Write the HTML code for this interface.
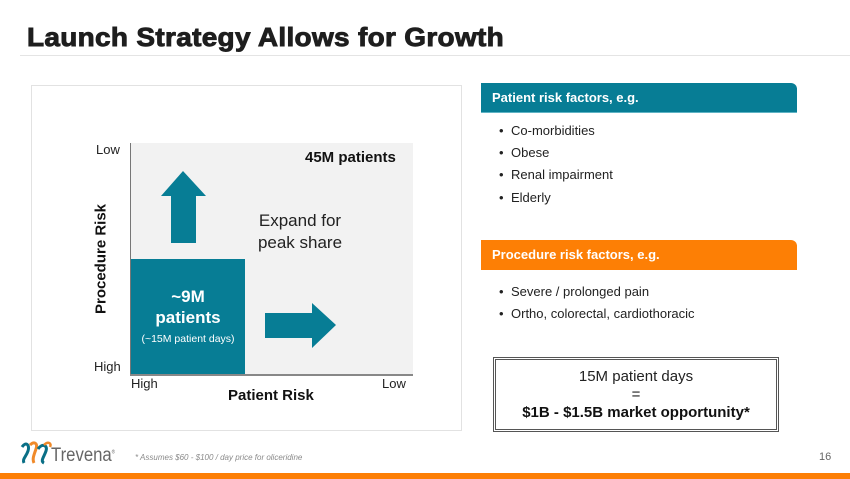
<!DOCTYPE html>
<html><head><meta charset="utf-8">
<style>
*{margin:0;padding:0;box-sizing:border-box}
html,body{width:850px;height:479px;background:#fff;overflow:hidden}
body{position:relative;font-family:"Liberation Sans",Arial,sans-serif;color:#222}
.abs{position:absolute;white-space:nowrap}
.title{left:27px;top:22px;font-size:26px;font-weight:bold;color:#1e1e1e;letter-spacing:0.3px;transform:scaleX(1.075);transform-origin:left top;-webkit-text-stroke:0.9px #1e1e1e}
.rule{left:20px;top:55px;width:830px;height:1px;background:#e4e4e4}
.chartbox{left:31px;top:85px;width:431px;height:346px;border:1px solid #e2e2e2}
.plot{left:131px;top:143px;width:282px;height:231px;background:#f2f2f2}
.yaxis{left:130px;top:143px;width:1px;height:233px;background:#777}
.xaxis{left:130px;top:374px;width:283px;height:2px;background:#888}
.teal{left:131px;top:259px;width:114px;height:115px;background:#077d95}
.lbl{font-size:13px;color:#222}
.bold15{font-size:15px;font-weight:bold;color:#111}
.bar{height:30px;color:#fff;font-size:13px;font-weight:bold;padding-left:11px;line-height:30px;border-top-right-radius:6px}
.bul{font-size:13px;color:#222}
.bul span{display:inline-block;width:12px;font-size:13px}
</style></head><body>
<div class="abs title">Launch Strategy Allows for Growth</div>
<div class="abs rule"></div>

<div class="abs chartbox"></div>
<div class="abs plot"></div>
<div class="abs teal"></div>
<div class="abs yaxis"></div>
<div class="abs xaxis"></div>

<svg class="abs" style="left:0;top:0" width="850" height="479">
  <polygon points="171,243 196,243 196,196 206,196 183,171 161,196 171,196" fill="#077d95"/>
  <polygon points="265,313 312,313 312,303 336,325 312,348 312,338 265,338" fill="#077d95"/>
</svg>

<div class="abs lbl" style="left:96px;top:142px">Low</div>
<div class="abs lbl" style="left:94px;top:359px">High</div>
<div class="abs lbl" style="left:131px;top:376px">High</div>
<div class="abs lbl" style="left:382px;top:376px">Low</div>
<div class="abs bold15" style="left:228px;top:387px">Patient Risk</div>
<div class="abs bold15" style="left:101px;top:259px;transform:translate(-50%,-50%) rotate(-90deg)">Procedure Risk</div>
<div class="abs bold15" style="left:305px;top:149px">45M patients</div>
<div class="abs" style="left:245px;top:210px;width:110px;text-align:center;font-size:17px;line-height:22px;color:#222">Expand for<br>peak share</div>
<div class="abs" style="left:131px;top:286px;width:114px;text-align:center;color:#fff;font-weight:bold;font-size:17px;line-height:21px">~9M<br>patients</div>
<div class="abs" style="left:131px;top:333px;width:114px;text-align:center;color:#fff;font-size:10.5px">(~15M patient days)</div>

<div class="abs bar" style="left:481px;top:83px;width:316px;background:#077d95;border-bottom:1px solid #5fb3c4">Patient risk factors, e.g.</div>
<div class="abs bul" style="left:499px;top:123px"><span>•</span>Co-morbidities</div>
<div class="abs bul" style="left:499px;top:145px"><span>•</span>Obese</div>
<div class="abs bul" style="left:499px;top:167px"><span>•</span>Renal impairment</div>
<div class="abs bul" style="left:499px;top:190px"><span>•</span>Elderly</div>

<div class="abs bar" style="left:481px;top:240px;width:316px;background:#fd7f05">Procedure risk factors, e.g.</div>
<div class="abs bul" style="left:499px;top:284px"><span>•</span>Severe / prolonged pain</div>
<div class="abs bul" style="left:499px;top:306px"><span>•</span>Ortho, colorectal, cardiothoracic</div>

<div class="abs" style="left:493px;top:357px;width:286px;height:75px;border:3px double #555;background:#fff"></div>
<div class="abs" style="left:493px;top:368px;width:286px;text-align:center;font-size:15px;color:#222">15M patient days</div>
<div class="abs" style="left:493px;top:386px;width:286px;text-align:center;font-size:15px;color:#222">=</div>
<div class="abs" style="left:493px;top:404px;width:286px;text-align:center;font-size:15px;font-weight:bold;color:#111">$1B - $1.5B market opportunity*</div>

<svg class="abs" style="left:18px;top:441px" width="36" height="26">
  <path d="M4,6 C8,0 12,4 10,10 C8,16 4,18 6,22" stroke="#0a6f86" stroke-width="3" fill="none"/>
  <path d="M12,4 C16,0 20,2 18,8 C16,14 14,18 16,22" stroke="#f08a2a" stroke-width="3" fill="none"/>
  <path d="M20,8 C24,2 30,4 28,10 C26,16 22,20 26,22" stroke="#0a6f86" stroke-width="3" fill="none"/>
  <path d="M26,4 C30,0 34,2 32,6" stroke="#f08a2a" stroke-width="2.5" fill="none"/>
</svg>
<div class="abs" style="left:51px;top:445px;font-size:19px;color:#666;transform:scaleX(0.88);transform-origin:left top">Trevena<sup style="font-size:5px">®</sup></div>
<div class="abs" style="left:135px;top:453px;font-size:8px;font-style:italic;color:#8a8a8a">* Assumes $60 - $100 / day price for oliceridine</div>
<div class="abs" style="left:819px;top:451px;font-size:11px;color:#666">16</div>
<div class="abs" style="left:0;top:473px;width:850px;height:6px;background:#fd7f05"></div>
</body></html>
